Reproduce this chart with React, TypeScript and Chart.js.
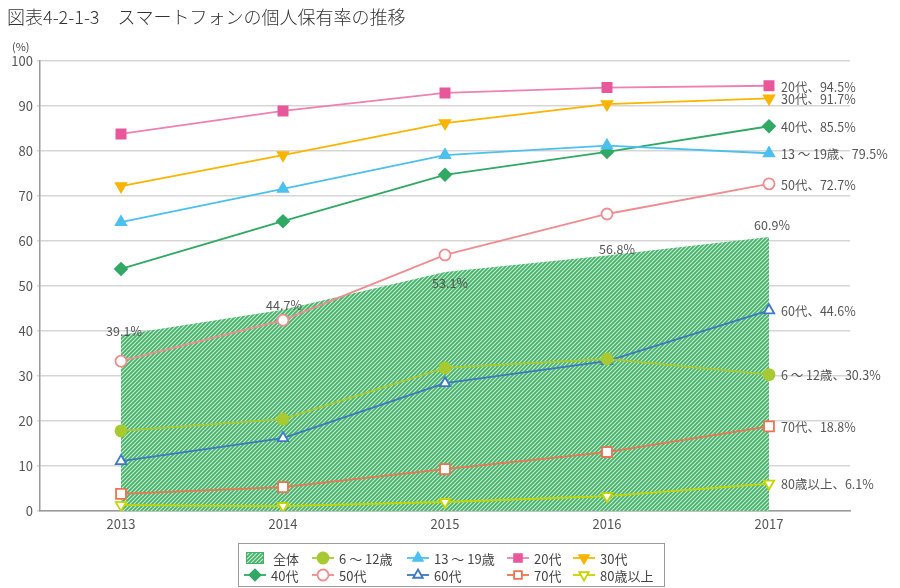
import React, { useEffect, useRef } from "react";
import { Chart, registerables } from "chart.js";
import { drawPoint } from "chart.js/helpers";

Chart.register(...registerables);

const years = ["2013", "2014", "2015", "2016", "2017"];
const overall = [39.1, 44.7, 53.1, 56.8, 60.9];
const age6to12 = [17.8, 20.4, 31.8, 33.8, 30.3];
const age13to19 = [64.2, 71.6, 79.1, 81.2, 79.5];
const age20s = [83.8, 88.9, 92.9, 94.1, 94.5];
const age30s = [72.2, 79.1, 86.2, 90.4, 91.7];
const age40s = [53.8, 64.4, 74.7, 79.8, 85.5];
const age50s = [33.3, 42.4, 56.9, 66.0, 72.7];
const age60s = [11.1, 16.2, 28.4, 33.3, 44.6];
const age70s = [3.8, 5.3, 9.3, 13.1, 18.8];
const age80plus = [1.3, 1.1, 2.0, 3.3, 6.1];

const seriesNames = ["6 ～ 12歳", "13 ～ 19歳", "20代", "30代", "40代", "50代", "60代", "70代", "80歳以上"];
const endLabels = ["6 ～ 12歳、30.3%", "13 ～ 19歳、79.5%", "20代、94.5%", "30代、91.7%", "40代、85.5%", "50代、72.7%", "60代、44.6%", "70代、18.8%", "80歳以上、6.1%"];
const overallName = "全体";
const overallLabels = ["39.1%", "44.7%", "53.1%", "56.8%", "60.9%"];
const titleText = "図表4-2-1-3　スマートフォンの個人保有率の推移";

const FONT = "'Noto Sans CJK JP', 'Noto Sans', sans-serif";

// styles
const seriesStyles = [
  { color: "#a8c930", fill: "#a8c930", style: "circle", rot: 0, r: 5.5 },
  { color: "#4cc0ef", fill: "#4cc0ef", style: "triangle", rot: 0, r: 6 },
  { color: "#ee80b4", fill: "#e8579b", style: "rect", rot: 0, r: 6.5 },
  { color: "#fbb400", fill: "#fbb400", style: "triangle", rot: 180, r: 6 },
  { color: "#30a964", fill: "#30a964", style: "rectRot", rot: 0, r: 6 },
  { color: "#f08c90", fill: "#ffffff", style: "circle", rot: 0, r: 5.5 },
  { color: "#3c79c2", fill: "#ffffff", style: "triangle", rot: 0, r: 6 },
  { color: "#ee7352", fill: "#ffffff", style: "rect", rot: 0, r: 7 },
  { color: "#c6d400", fill: "#ffffff", style: "triangle", rot: 180, r: 6 },
];
const seriesData = [age6to12, age13to19, age20s, age30s, age40s, age50s, age60s, age70s, age80plus];
const overallLabelOffsets = [[3, -4], [1, -5], [5, 11], [10, -6], [3, -12]];
// legend layout
const legendOrder = [-1, 0, 1, 2, 3, 4, 5, 6, 7, 8];
const legendCols = [255, 323, 418, 518, 584];
const legendRows = [558, 575];

function makePattern(): CanvasPattern | string {
  const c = document.createElement("canvas");
  c.width = 4;
  c.height = 4;
  const g = c.getContext("2d");
  if (!g) return "#5cbb7a";
  g.fillStyle = "#c9ecd3";
  g.fillRect(0, 0, 4, 4);
  g.strokeStyle = "#43b268";
  g.lineWidth = 1.7;
  g.beginPath();
  g.moveTo(-1, 5); g.lineTo(5, -1);
  g.moveTo(-3, 3); g.lineTo(3, -3);
  g.moveTo(1, 7); g.lineTo(7, 1);
  g.stroke();
  const p = g.createPattern(c, "repeat");
  return p || "#5cbb7a";
}

export default function App() {
  const ref = useRef<HTMLCanvasElement | null>(null);
  useEffect(() => {
    if (!ref.current) return;
    const pattern = makePattern();

    const datasets: any[] = seriesData.map((d, i) => ({
      type: "line",
      label: seriesNames[i],
      data: d,
      borderColor: seriesStyles[i].color,
      backgroundColor: seriesStyles[i].fill,
      pointBackgroundColor: seriesStyles[i].fill,
      pointBorderColor: seriesStyles[i].fill === "#ffffff" ? seriesStyles[i].color : seriesStyles[i].fill,
      pointStyle: seriesStyles[i].style,
      pointRotation: seriesStyles[i].rot,
      pointRadius: seriesStyles[i].r,
      pointBorderWidth: 1.8,
      borderWidth: 1.8,
      fill: false,
      tension: 0,
      order: 1,
    }));
    datasets.push({
      type: "line",
      label: overallName,
      data: overall,
      backgroundColor: pattern,
      borderWidth: 0,
      borderColor: "rgba(0,0,0,0)",
      pointRadius: 0,
      fill: "origin",
      order: 100,
    });

    const textPlugin = {
      id: "texts",
      afterDraw(chart: any) {
        const ctx = chart.ctx as CanvasRenderingContext2D;
        const xs = chart.scales.x;
        const ys = chart.scales.y;
        ctx.save();
        // title
        ctx.fillStyle = "#333";
        ctx.font = `300 18px ${FONT}`;
        ctx.textAlign = "left";
        ctx.textBaseline = "middle";
        ctx.fillText(titleText, 7, 17);
        ctx.font = `11px ${FONT}`;
        ctx.fillStyle = "#444";
        ctx.fillText("(%)", 12, 47);
        // end labels
        ctx.font = `12.5px ${FONT}`;
        ctx.fillStyle = "#555";
        seriesData.forEach((d, i) => {
          const v = d[d.length - 1];
          ctx.fillText(endLabels[i], xs.getPixelForValue(d.length - 1) + 12, ys.getPixelForValue(v) + 1);
        });
        // overall labels
        ctx.textAlign = "center";
        overall.forEach((v, i) => {
          const [dx, dy] = overallLabelOffsets[i];
          ctx.fillText(overallLabels[i], xs.getPixelForValue(i) + dx, ys.getPixelForValue(v) + dy);
        });
        // legend
        ctx.strokeStyle = "#9a9a9a";
        ctx.lineWidth = 1;
        ctx.strokeRect(238.5, 543.5, 426, 43);
        ctx.textAlign = "left";
        ctx.font = `13px ${FONT}`;
        legendOrder.forEach((si, k) => {
          const cx = legendCols[k % 5];
          const cy = legendRows[Math.floor(k / 5)];
          if (si < 0) {
            ctx.fillStyle = pattern as any;
            ctx.fillRect(cx - 9, cy - 6, 18, 12);
            ctx.strokeStyle = "#43b268";
            ctx.strokeRect(cx - 8.5, cy - 5.5, 17, 11);
            ctx.fillStyle = "#444";
            ctx.fillText(overallName, cx + 18, cy + 1);
            return;
          }
          const st = seriesStyles[si];
          ctx.strokeStyle = st.color;
          ctx.lineWidth = 1.8;
          ctx.beginPath();
          ctx.moveTo(cx - 11, cy);
          ctx.lineTo(cx + 11, cy);
          ctx.stroke();
          ctx.fillStyle = st.fill;
          ctx.strokeStyle = st.fill === "#ffffff" ? st.color : st.fill;
          drawPoint(ctx, { pointStyle: st.style as any, rotation: st.rot, radius: Math.min(st.r, 5.5), borderWidth: 1.8 } as any, cx, cy);
          ctx.fillStyle = "#444";
          ctx.fillText(seriesNames[si], cx + 16, cy + 1);
        });
        ctx.restore();
      },
    };

    const chart = new Chart(ref.current, {
      type: "line",
      data: { labels: years, datasets },
      options: {
        animation: false,
        responsive: true,
        maintainAspectRatio: false,
        layout: { padding: { top: 61, right: 50, bottom: 49, left: 0 } },
        plugins: { legend: { display: false }, tooltip: { enabled: false }, title: { display: false } },
        scales: {
          x: {
            offset: true,
            grid: { display: false, drawTicks: false, tickLength: 0 },
            border: { display: true, color: "#9a9a9a", width: 1.5 },
            ticks: { color: "#555", font: { family: FONT, size: 13 }, padding: 5 },
            afterFit: (s: any) => { s.height = 28; },
          },
          y: {
            min: 0,
            max: 100,
            ticks: { stepSize: 10, color: "#555", font: { family: FONT, size: 13 }, padding: 4 },
            grid: { color: "#d6d6d6", lineWidth: 1.5, tickLength: 3, drawTicks: true },
            border: { display: true, color: "#9a9a9a", width: 1.5 },
            afterFit: (s: any) => { s.width = 40; },
          },
        },
      },
      plugins: [textPlugin],
    } as any);
    return () => chart.destroy();
  }, []);

  return (
    <div style={{ position: "fixed", left: 0, top: 0, width: 900, height: 588, background: "#fff" }}>
      <canvas ref={ref} />
    </div>
  );
}
